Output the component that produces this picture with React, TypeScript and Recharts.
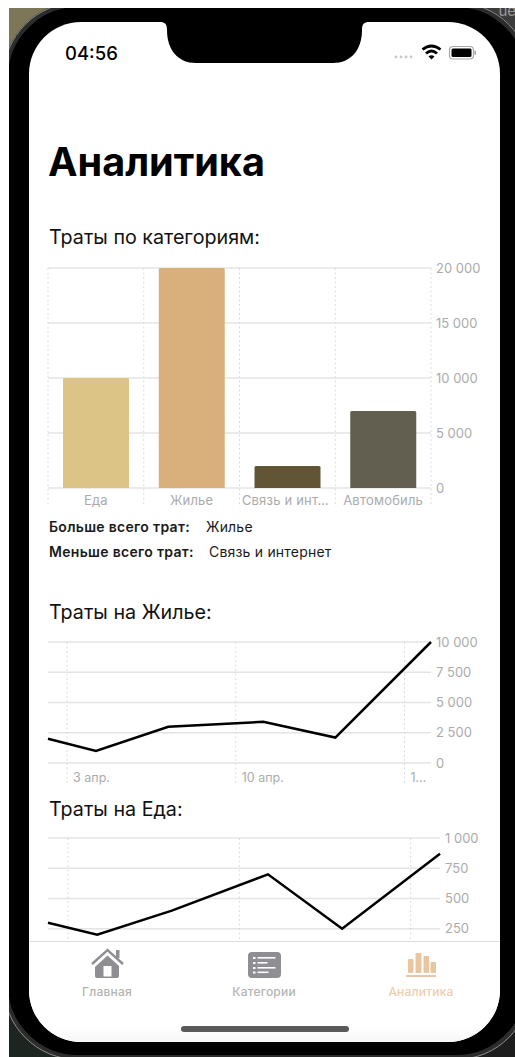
import React from "react";
import { BarChart, Bar, LineChart, Line, XAxis, YAxis, CartesianGrid, Cell } from "recharts";

// Spending per category
const categories = ["Еда", "Жилье", "Связь и инт…", "Автомобиль"];
const categorySpend = [10000, 20000, 2000, 7000];
const categoryColors = ["#DCC487", "#D9AF7C", "#615535", "#625F50"];
const categoryTicks = [0, 5000, 10000, 15000, 20000];

// Housing spend over time (day of April)
const housingDays = [2.21, 4.2, 7.2, 11.14, 14.13, 18.1];
const housingSpend = [2000, 1000, 3000, 3400, 2100, 10000];
const housingTicks = [0, 2500, 5000, 7500, 10000];

// Food spend over time (day of April)
const foodDays = [2.18, 4.19, 7.24, 11.17, 14.2, 18.2];
const foodSpend = [300, 200, 400, 700, 250, 870];
const foodTicks = [0, 250, 500, 750, 1000];

const dayTicks = [3, 10, 17];
const dayLabels = ["3 апр.", "10 апр.", "1…"];

const FONT = "Inter, Roboto, sans-serif";
const GRID = "#E4E4E4";
const DASH = "#DCDCDC";
const DASH_PATTERN = "2 2.5";
const AXIS_TEXT = "#ABABAB";

const barRows = categories.map((name, i) => ({ name, value: categorySpend[i] }));
const housingRows = housingDays.map((day, i) => ({ day, value: housingSpend[i] }));
const foodRows = foodDays.map((day, i) => ({ day, value: foodSpend[i] }));

const formatAmount = (v: number) => String(v).replace(/\B(?=(\d{3})+$)/g, "\u00a0");
const yTick = { fill: AXIS_TEXT, fontSize: 13, fontFamily: FONT };

const BAR_PLOT_H = 220;

// Category label plus dashed separators on the band edges, running down past the axis.
function BandTick(props: any) {
  const { x, y, payload, index } = props;
  const half = payload.offset ?? 47.9;
  const isLast = index === categories.length - 1;
  const sep = (px: number) => (
    <line x1={px} x2={px} y1={y - BAR_PLOT_H} y2={y + 19} stroke={DASH} strokeDasharray={DASH_PATTERN} />
  );
  return (
    <g>
      {sep(x - half)}
      {isLast && sep(x + half)}
      <text
        x={x - (index === 2 ? 2 : 0)}
        y={y + 17}
        textAnchor="middle"
        fill={AXIS_TEXT}
        fontSize={13}
        fontFamily={FONT}
        letterSpacing={0.2}
      >
        {payload.value}
      </text>
    </g>
  );
}

// Date label to the right of its dashed guide.
function DayTick(props: any) {
  const { x, y, index } = props;
  return (
    <g>
      <line x1={x} x2={x} y1={y} y2={y + 20} stroke={DASH} strokeDasharray={DASH_PATTERN} />
      <text x={x + 6} y={y + 19} fill={AXIS_TEXT} fontSize={12.5} fontFamily={FONT}>
        {dayLabels[index]}
      </text>
    </g>
  );
}

function SpendLine({ rows, ticks, domainX, width, yWidth, top }: any) {
  return (
    <div style={{ position: "absolute", left: 38, top, width, height: 153 }}>
      <LineChart
        width={width}
        height={153}
        data={rows}
        margin={{ top: 10, right: 0, bottom: 0, left: 10 }}
      >
        <CartesianGrid vertical={false} stroke={GRID} strokeWidth={1.3} />
        <CartesianGrid horizontal={false} syncWithTicks stroke={DASH} strokeDasharray={DASH_PATTERN} />
        <XAxis
          dataKey="day"
          type="number"
          domain={domainX}
          ticks={dayTicks}
          interval={0}
          height={22}
          axisLine={false}
          tickLine={false}
          tickSize={0}
          tickMargin={0}
          tick={<DayTick />}
        />
        <YAxis
          orientation="right"
          domain={[0, ticks[ticks.length - 1]]}
          ticks={ticks}
          interval={0}
          width={yWidth}
          axisLine={false}
          tickLine={false}
          tickSize={0}
          tickMargin={5}
          tick={yTick}
          tickFormatter={formatAmount}
        />
        <Line
          dataKey="value"
          type="linear"
          stroke="#000"
          strokeWidth={2.5}
          dot={false}
          isAnimationActive={false}
        />
      </LineChart>
    </div>
  );
}

const heading = (top: number): React.CSSProperties => ({
  position: "absolute",
  left: 49,
  top,
  fontSize: 19.7,
  lineHeight: "24px",
  color: "#111",
  whiteSpace: "nowrap",
});

const small = (left: number, top: number, bold = false): React.CSSProperties => ({
  position: "absolute",
  left,
  top,
  fontSize: 14,
  lineHeight: "16px",
  fontWeight: bold ? 600 : 400,
  letterSpacing: bold ? 0.3 : 0.2,
  color: "#1a1a1a",
  whiteSpace: "nowrap",
});

const tabLabel = (center: number, color: string): React.CSSProperties => ({
  position: "absolute",
  left: center - 50,
  width: 100,
  top: 985,
  textAlign: "center",
  fontSize: 12,
  lineHeight: "14px",
  fontWeight: 500,
  letterSpacing: 0.2,
  color,
  whiteSpace: "nowrap",
});

export default function App() {
  return (
    <div
      style={{
        position: "fixed",
        left: 0,
        top: 0,
        width: 515,
        height: 1057,
        overflow: "hidden",
        background: "#fff",
        fontFamily: FONT,
      }}
    >
      {/* Desktop behind the device, visible only in the corners */}
      <div
        style={{
          position: "absolute",
          left: 9,
          top: 8,
          width: 506,
          height: 1049,
          overflow: "hidden",
          background: "#2a2a28",
        }}
      >
        <div style={{ position: "absolute", left: 0, top: 0, width: 60, height: 60, background: "#7d7658" }} />
        <div style={{ position: "absolute", left: 0, bottom: 0, width: 60, height: 60, background: "#1c251f" }} />
        <div style={{ position: "absolute", right: 0, bottom: 0, width: 60, height: 60, background: "#1d1d1d" }} />
        <div style={{ position: "absolute", right: 0, top: 0, width: 60, height: 60, background: "#3c3c3c" }} />
        <div
          style={{
            position: "absolute",
            right: -1,
            top: -6,
            fontSize: 15,
            lineHeight: "18px",
            color: "#9a9a9a",
          }}
        >
          ue
        </div>
        <div
          style={{
            position: "absolute",
            left: -6,
            top: -6,
            width: 528,
            height: 1058,
            boxSizing: "border-box",
            borderRadius: 75,
            background: "#000",
            border: "5px solid #2c2c2c",
            outline: "1px solid #8a8a8a",
            outlineOffset: -1,
          }}
        />
      </div>

      {/* Screen */}
      <div
        style={{
          position: "absolute",
          left: 29,
          top: 22,
          width: 471,
          height: 1020,
          borderRadius: 52,
          background: "#fff",
        }}
      />

      <div
        style={{
          position: "absolute",
          left: 48,
          top: 138,
          fontSize: 39.6,
          lineHeight: "48px",
          fontWeight: 700,
          color: "#000",
          whiteSpace: "nowrap",
        }}
      >
        Аналитика
      </div>

      <div style={heading(225)}>Траты по категориям:</div>

      <div style={{ position: "absolute", left: 38, top: 258, width: 460, height: 252 }}>
        <BarChart
          width={460}
          height={252}
          data={barRows}
          margin={{ top: 10, right: 0, bottom: 0, left: 10 }}
        >
          <CartesianGrid vertical={false} stroke={GRID} strokeWidth={1.3} />
          <XAxis
            dataKey="name"
            interval={0}
            height={22}
            axisLine={false}
            tickLine={false}
            tickSize={0}
            tickMargin={0}
            tick={<BandTick />}
          />
          <YAxis
            orientation="right"
            domain={[0, 20000]}
            ticks={categoryTicks}
            interval={0}
            width={67}
            axisLine={false}
            tickLine={false}
            tickSize={0}
            tickMargin={5}
            tick={yTick}
            tickFormatter={formatAmount}
          />
          <Bar dataKey="value" barSize={66} radius={[1.5, 1.5, 0, 0]} isAnimationActive={false}>
            {barRows.map((row, i) => (
              <Cell key={row.name} fill={categoryColors[i]} />
            ))}
          </Bar>
        </BarChart>
      </div>

      <div style={small(49, 519, true)}>Больше всего трат:</div>
      <div style={small(206, 519)}>Жилье</div>
      <div style={small(49, 544, true)}>Меньше всего трат:</div>
      <div style={small(209, 544)}>Связь и интернет</div>

      <div style={heading(600)}>Траты на Жилье:</div>
      <SpendLine rows={housingRows} ticks={housingTicks} domainX={[2.21, 18.1]} width={460} yWidth={67} top={632} />

      <div style={heading(797)}>Траты на Еда:</div>
      <SpendLine rows={foodRows} ticks={foodTicks} domainX={[2.18, 18.2]} width={460} yWidth={58} top={828} />

      {/* Tab bar sits above the scrolled content */}
      <div
        style={{
          position: "absolute",
          left: 29,
          top: 941,
          width: 471,
          height: 101,
          background: "linear-gradient(#fff 85%,#f7f7f7 100%)",
          borderTop: "1px solid #DEDEDE",
          boxSizing: "border-box",
          borderRadius: "0 0 52px 52px",
        }}
      />

      <svg width={515} height={1057} style={{ position: "absolute", left: 0, top: 0 }}>
        {/* Notch */}
        <path
          d="M160 22 C165 22 167 24 167 30 C167 50 178 63 196 63 L333 63 C351 63 362 50 362 30 C362 24 364 22 369 22 Z"
          fill="#000"
        />
        {/* Status icons */}
        <g fill="#C9C9C9">
          <circle cx={396} cy={57} r={1.4} />
          <circle cx={401} cy={57} r={1.4} />
          <circle cx={406} cy={57} r={1.4} />
          <circle cx={411} cy={57} r={1.4} />
        </g>
        <g fill="none" stroke="#000" strokeWidth={2.8}>
          <path d="M422.5 49.5 Q431.5 42.5 440.5 49.5" />
          <path d="M426 53.5 Q431.5 48.5 437 53.5" />
        </g>
        <path d="M428.5 56.5 L431.5 59.5 L434.5 56.5 Q431.5 54 428.5 56.5 Z" fill="#000" />
        <rect x={449.5} y={46.5} width={24} height={12.5} rx={3.5} fill="#fff" stroke="#A8A8A8" strokeWidth={1.2} />
        <rect x={451.5} y={48.5} width={20} height={8.5} rx={1.5} fill="#000" />
        <rect x={474.5} y={50.5} width={1.5} height={4.5} rx={0.7} fill="#A8A8A8" />

        {/* Home tab */}
        <path d="M92 964 L107.5 950 L123 964" fill="none" stroke="#8E8E93" strokeWidth={2.4} />
        <rect x={116} y={950} width={3.5} height={8} fill="#8E8E93" />
        <path
          d="M95 967 L107.5 955.5 L119 966 L119 976 Q119 978 117 978 L97 978 Q95 978 95 976 Z"
          fill="#8E8E93"
        />
        <rect x={103.5} y={966} width={8} height={10.5} fill="#fff" />

        {/* Categories tab */}
        <rect x={248} y={952} width={33} height={26} rx={4} fill="#8E8E93" />
        <g fill="#fff">
          <rect x={253} y={957} width={2.5} height={2} />
          <rect x={253} y={962} width={2.5} height={2} />
          <rect x={253} y={967} width={2.5} height={2} />
          <rect x={253} y={971.5} width={2.5} height={2} />
          <rect x={257.5} y={957} width={18} height={1.6} />
          <rect x={257.5} y={962} width={10} height={1.6} />
          <rect x={257.5} y={967} width={18} height={1.6} />
          <rect x={257.5} y={971.5} width={11} height={1.6} />
        </g>

        {/* Analytics tab */}
        <g fill="#E8C6A2">
          <rect x={408} y={959} width={5.5} height={14} rx={1} />
          <rect x={415.5} y={953} width={6} height={20} rx={1} />
          <rect x={423.5} y={956} width={5.5} height={17} rx={1} />
          <rect x={430.5} y={962} width={5.5} height={11} rx={1} />
          <rect x={406} y={975} width={30} height={2} />
        </g>

        {/* Home indicator */}
        <rect x={181} y={1026} width={168} height={6} rx={3} fill="#5A5A5A" />
      </svg>

      <div style={tabLabel(107, "#B4B4B4")}>Главная</div>
      <div style={tabLabel(264, "#B4B4B4")}>Категории</div>
      <div style={tabLabel(421, "#EFCDAE")}>Аналитика</div>

      <div
        style={{
          position: "absolute",
          left: 65,
          top: 41,
          fontSize: 18.5,
          lineHeight: "24px",
          fontWeight: 500,
          color: "#000",
        }}
      >
        04:56
      </div>
    </div>
  );
}
